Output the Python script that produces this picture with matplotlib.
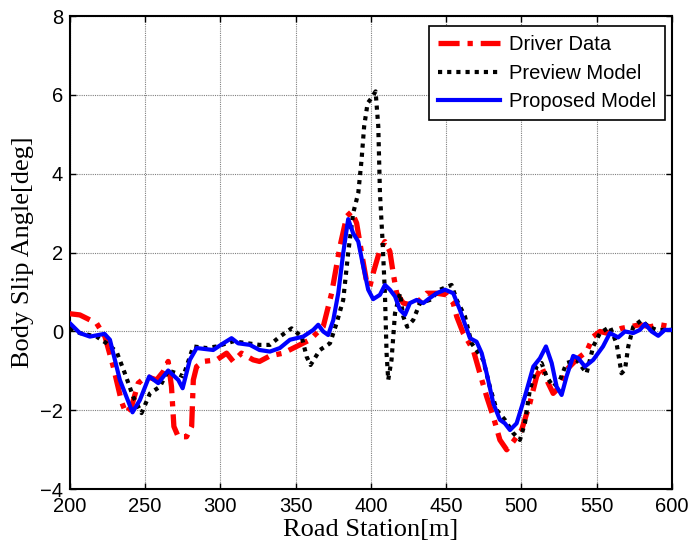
import matplotlib
matplotlib.use("Agg")
import matplotlib.pyplot as plt

# Driver Data (red dash-dot)
driver_x = [200, 206.6, 217.7, 223.3, 228.8, 234.3, 237.2, 241, 245.4, 251, 257.6, 262, 265.3,
            267.5, 269.1, 272, 277.5, 280.9, 282, 284.2, 288.6, 297.5, 304.1, 308.5, 314, 321.8,
            326, 332.9, 341.7, 350.6, 359.5, 368.3, 373.9, 379.4, 383.9, 387.2, 390.5, 393.8,
            397.1, 399.3, 401.5, 406, 409.3, 412.6, 414.8, 417.1, 421.5, 425.9, 432.6, 437,
            443.7, 450.3, 454.7, 457, 461.3, 468, 472.4, 476.9, 481.3, 485.7, 490.2, 494.6,
            500.1, 505.6, 510.1, 513.4, 517.8, 521.1, 525.6, 530, 534.4, 538.9, 543.3, 547.7,
            552.2, 556.5, 561, 566.5, 572.1, 578.7, 585.4, 592, 599.5]
driver_y = [0.45, 0.42, 0.21, -0.13, -0.89, -1.78, -2.07, -1.9, -1.31, -1.14, -1.23, -1.02, -0.76,
            -1.4, -2.41, -2.67, -2.67, -2.41, -1.23, -0.89, -0.76, -0.72, -0.55, -0.76, -0.55, -0.72,
            -0.76, -0.62, -0.55, -0.38, -0.21, 0.12, 0.97, 2.15, 2.92, 3.04, 2.75, 1.99,
            1.27, 1.14, 1.48, 2.07, 2.28, 2.03, 1.48, 0.97, 0.72, 0.68, 0.8, 0.97,
            0.97, 0.93, 0.72, 0.38, -0.04, -0.47, -1.06, -1.65, -2.16, -2.75, -3.0, -2.79,
            -2.5, -1.82, -1.14, -0.89, -1.31, -1.57, -1.4, -0.97, -0.8, -0.64, -0.51, -0.13,
            0.0, -0.04, 0.0, 0.08, 0.12, 0.17, 0.12, 0.17, 0.12]

# Preview Model (black dotted)
preview_x = [200, 206.6, 217.7, 224.4, 231, 236.5, 242, 247.6, 253.2, 259.8, 265.3, 270.9, 275.3,
             282, 290.8, 297.5, 308.5, 326, 332.9, 339.5, 347.3, 354, 357.3, 359.9, 366.1, 372.8,
             377.2, 381.6, 384.9, 388.2, 391.6, 393.8, 395.5, 397.8, 400.4, 403.1, 404.9, 406,
             407.7, 409.3, 410.4, 411.5, 413.7, 416, 419.3, 421.5, 424.1, 428.1, 432.6, 439.2,
             445.9, 453.6, 457, 462.5, 466.9, 474.6, 479, 483.5, 489, 494.6, 499, 502.3, 505.6,
             510.1, 513.4, 516.7, 521.1, 525.6, 530, 536.7, 543.3, 547.7, 552.2, 558.8, 563.2,
             566.5, 568.8, 571, 574.3, 579.8, 584.3, 589.8, 599.5]
preview_y = [0.08, -0.04, -0.13, -0.3, -0.51, -1.06, -1.65, -2.07, -1.57, -1.4, -0.99, -1.06, -1.14,
             -0.38, -0.42, -0.38, -0.25, -0.34, -0.34, -0.13, 0.08, -0.13, -0.64, -0.85, -0.47, -0.3,
             0.21, 0.8, 1.99, 3.0, 3.51, 4.36, 5.2, 5.79, 5.92, 6.09, 5.2, 3.51,
             2.32, 0.97, -0.55, -1.23, -0.72, 0.46, 0.97, 0.38, 0.12, 0.29, 0.72, 0.8,
             1.06, 1.18, 0.8, 0.38, -0.3, -0.72, -1.4, -1.99, -2.24, -2.58, -2.75, -2.33, -1.48,
             -0.89, -0.8, -1.14, -1.4, -1.23, -0.8, -0.72, -1.06, -0.38, -0.04, 0.12, -0.3,
             -1.06, -0.97, -0.38, 0.12, 0.29, 0.12, 0.04, 0.04]

# Proposed Model (blue solid)
proposed_x = [200, 206.6, 213.3, 223, 226.6, 233.2, 241.6, 246.5, 252.7, 258.7, 265.3, 272, 274.9,
              279.7, 284.2, 295.2, 301.9, 307.4, 311.8, 319.6, 326, 332.9, 339.5, 346.2, 355,
              361.7, 365, 368.3, 371.6, 375, 378.3, 381.6, 384.9, 388.2, 391.6, 394.9, 398.2,
              401.5, 406, 409.3, 412.6, 416, 419.3, 422.6, 425.9, 430.4, 434.8, 439.2, 443.7,
              449.2, 454.7, 459.1, 465.8, 470.2, 473.6, 476.9, 481.3, 485.7, 489, 492.4, 496.8,
              502.3, 507.9, 512.3, 516.3, 520.1, 523.4, 526.7, 530, 534.4, 537.8, 542.2, 547.7,
              554.2, 558.8, 564.3, 568.8, 574.3, 578.7, 582.1, 586.5, 590.9, 595.3, 599.5]
proposed_y = [0.21, -0.04, -0.13, -0.06, -0.21, -1.23, -2.05, -1.74, -1.14, -1.31, -0.99, -1.23, -1.44,
              -0.72, -0.42, -0.47, -0.3, -0.17, -0.3, -0.34, -0.47, -0.51, -0.42, -0.21, -0.13,
              0.04, 0.17, 0.0, -0.09, 0.29, 0.97, 1.99, 2.85, 2.49, 2.28, 1.65, 1.06,
              0.82, 0.93, 1.18, 1.06, 0.89, 0.55, 0.42, 0.72, 0.8, 0.72, 0.85, 0.97,
              1.06, 0.97, 0.55, -0.17, -0.26, -0.55, -1.06, -1.82, -2.24, -2.33, -2.5, -2.33,
              -1.65, -0.89, -0.68, -0.38, -0.8, -1.4, -1.61, -1.14, -0.62, -0.68, -0.89, -0.72,
              -0.38, -0.04, -0.15, 0.0, -0.04, 0.04, 0.19, 0.0, -0.11, 0.04, 0.04]

labels = ["Driver Data", "Preview Model", "Proposed Model"]
x_ticks = [200, 250, 300, 350, 400, 450, 500, 550, 600]
y_ticks = [-4, -2, 0, 2, 4, 6, 8]

fig = plt.figure(figsize=(6.92, 5.54), dpi=100)
ax = fig.add_axes([0.101, 0.117, 0.870, 0.854])

ax.plot(driver_x, driver_y, color="#ff0000", lw=3.8, linestyle=(0, (4, 1.5, 1, 1.5)),
        label=labels[0], zorder=3)
ax.plot(preview_x, preview_y, color="black", lw=3.0, linestyle=(0, (1, 1.2)),
        label=labels[1], zorder=4)
ax.plot(proposed_x, proposed_y, color="#0000ff", lw=3.0, linestyle="-",
        label=labels[2], zorder=5)

ax.set_xlim(200, 600)
ax.set_ylim(-4, 8)
ax.set_xticks(x_ticks)
ax.set_yticks(y_ticks)
ax.tick_params(direction="in", top=True, right=True, length=4, width=1,
               labelsize=14.5)
ax.tick_params(axis="y", pad=5)
ax.tick_params(axis="x", pad=5.5)
for lab in ax.get_xticklabels() + ax.get_yticklabels():
    lab.set_family("Liberation Sans")
ax.grid(True, color="#808080", lw=0.8, linestyle=(0, (1, 1)))
for s in ax.spines.values():
    s.set_linewidth(1.5)

ax.set_xlabel("Road Station[m]", family="Liberation Serif", fontsize=19, labelpad=2)
ax.set_ylabel("Body Slip Angle[deg]", family="Liberation Serif", fontsize=19, labelpad=4)

leg = ax.legend(loc="upper right", bbox_to_anchor=(0.988, 0.979), frameon=True, fancybox=False,
                edgecolor="black", framealpha=1, handlelength=3.1,
                prop={"family": "Liberation Sans", "size": 14.5}, borderpad=0.45,
                labelspacing=0.48, handletextpad=0.4, borderaxespad=0)
leg.get_frame().set_linewidth(1.2)

fig.savefig("out.png", dpi=100)
